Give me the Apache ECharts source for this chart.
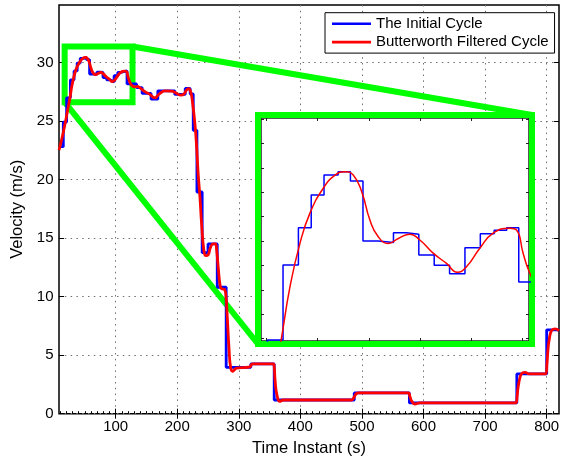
<!DOCTYPE html>
<html>
<head>
<meta charset="utf-8">
<script src="https://cdn.jsdelivr.net/npm/echarts@6/dist/echarts.min.js"></script>
<style>
  html, body { margin: 0; padding: 0; background: #fff; }
  #chart { width: 569px; height: 456px; }
</style>
</head>
<body>
<div id="chart"></div>
<script>
// Initial cycle: speed held from each time instant until the next one (stairs)
const initialTimes = [8, 15, 20.4, 26.5, 32.5, 37.5, 42.5, 48, 52.8, 57.7, 63.6, 69.6, 74.7, 79.5, 85.5, 91.5,
  97.5, 103.5, 108.9, 113.8, 118.5, 134, 143, 157.5, 168.5, 196, 213, 221, 226, 232, 240.5, 250, 265,
  279.5, 319.5, 357.5, 487.5, 577, 751.5, 800, 820];
const initialSpeeds = [22.8, 24.9, 26.97, 28.51, 29.27, 29.94, 30.35, 30.42, 30.23, 29.0, 28.97, 29.17, 29.14,
  28.71, 28.5, 28.33, 28.86, 29.15, 29.22, 29.27, 28.16, 27.85, 27.35, 26.86, 27.57, 27.26, 27.78, 27.3,
  24.2, 18.93, 13.75, 14.5, 10.8, 3.96, 4.25, 1.17, 1.77, 0.92, 3.4, 7.16, 7.16];

// Butterworth filtered cycle
const filteredTimes = [8, 10, 14, 18, 22, 25.7, 29.2, 33.1, 37.0, 42.2, 46.8, 50.7, 53.9, 57.2, 60.4, 63.6,
  67.6, 71.5, 76.0, 79.9, 85.1, 90.3, 94.5, 98.1, 103.3, 108.5, 115.0, 117.7, 120.2, 122.6, 126, 131,
  135, 140, 147.6, 155.7, 160, 164, 168, 172, 180, 191, 199, 206, 211, 215, 218.5, 222, 225, 228.7,
  231.5, 234, 236.9, 239.6, 243.3, 246.5, 250, 254, 258.5, 262, 264, 266.6, 269.3, 272, 277, 279.5,
  281, 284, 286.7, 290, 293, 296.4, 312, 318, 320.8, 323, 356, 357.5, 359, 362, 366.7, 372, 483, 486,
  488.5, 491, 494, 575, 578, 580.5, 586, 594, 750, 752, 753.6, 757.5, 761, 764.5, 772, 798.5, 800.5,
  802, 804, 807.8, 813, 820];
const filteredSpeeds = [22.5, 22.9, 23.8, 24.8, 25.9, 26.95, 28.06, 28.95, 29.57, 30.08, 30.35, 30.42, 30.35,
  30.01, 29.43, 29.09, 28.95, 29.05, 29.14, 29.02, 28.75, 28.54, 28.36, 28.47, 28.85, 29.16, 29.26,
  29.22, 28.75, 28.37, 28.05, 27.9, 27.95, 27.8, 27.5, 27.26, 27.05, 26.97, 27.15, 27.35, 27.57,
  27.55, 27.35, 27.2, 27.3, 27.63, 27.75, 27.45, 26.5, 24.78, 22.78, 20.5, 18.5, 16.2, 13.94, 13.5,
  13.55, 14.2, 14.5, 14.5, 13.94, 12.5, 11.1, 10.67, 10.6, 9.8, 8.53, 5.67, 3.96, 3.62, 3.75, 3.9,
  3.96, 4.0, 4.22, 4.25, 4.25, 4.0, 2.8, 1.6, 1.05, 1.17, 1.17, 1.3, 1.54, 1.72, 1.77, 1.77, 1.45,
  1.11, 0.83, 0.92, 0.92, 1.5, 2.25, 3.25, 3.5, 3.53, 3.4, 3.4, 4.3, 5.39, 6.3, 7.1, 7.25, 7.1];

// Tick values
const xTickValues = [100, 200, 300, 400, 500, 600, 700, 800];
const yTickValues = [0, 5, 10, 15, 20, 25, 30];
const insetXTicks = [20, 40, 60, 80, 100, 120];
const insetYTicks = [27, 27.5, 28, 28.5, 29, 29.5, 30, 30.5, 31, 31.5];

// Axis ranges
const mainT = [8, 820];
const mainV = [0, 34.9];
const insetT = [17.9, 122.5];
const insetV = [26.95, 31.52];
// Highlighted window in the main axes
const boxT = [17.2, 127.4];
const boxV = [26.6, 31.35];

const NAME_BLUE = 'The Initial Cycle';
const NAME_RED = 'Butterworth Filtered Cycle';
const FONT = '"Liberation Sans", Arial, Helvetica, sans-serif';
const GREEN = '#00ff00';

const pairs = (ts, vs) => ts.map((t, i) => [t, vs[i]]);
const initialData = pairs(initialTimes, initialSpeeds);
const filteredData = pairs(filteredTimes, filteredSpeeds);

// minor ticks every 10 s along the bottom axis
const minorX = [];
for (let t = 10; t <= 810; t += 10) if (t % 100 !== 0) minorX.push(t);

const hidden = { show: false };
const gridLine = { show: true, lineStyle: { color: '#707070', width: 1, type: [1.5, 4.3] } };

const chart = echarts.init(document.getElementById('chart'), null, { renderer: 'canvas' });

const option = {
  animation: false,
  backgroundColor: '#fff',
  textStyle: { fontFamily: FONT },
  grid: [
    { left: 59, top: 5, width: 500, height: 408.7, show: true, borderColor: '#000', borderWidth: 1.5,
      backgroundColor: 'transparent', containLabel: false, outerBoundsMode: 'none', z: 0 },
    { left: 261, top: 118, width: 268, height: 223, show: true, borderColor: '#222', borderWidth: 1.5,
      backgroundColor: '#fff', containLabel: false, outerBoundsMode: 'none', z: 1 }
  ],
  legend: {
    orient: 'vertical', left: 325, top: 12.7,
    padding: [3, 6, 3, 7], itemGap: 2.4,
    itemWidth: 39, itemHeight: 2.6, itemTextGap: 5,
    backgroundColor: '#fff', borderColor: '#000', borderWidth: 1, borderRadius: 0,
    textStyle: { fontFamily: FONT, fontSize: 15, color: '#000', lineHeight: 16 },
    selectedMode: false,
    data: [{ name: NAME_BLUE, icon: 'rect' }, { name: NAME_RED, icon: 'rect' }],
    z: 20
  },
  xAxis: [
    { // main bottom
      type: 'value', gridIndex: 0, position: 'bottom', min: mainT[0], max: mainT[1],
      name: 'Time Instant (s)', nameLocation: 'middle', nameGap: 21,
      nameTextStyle: { fontFamily: FONT, fontSize: 16.5, color: '#000' },
      axisLine: hidden,
      axisTick: { show: true, inside: true, length: 5, customValues: xTickValues,
        lineStyle: { color: '#000', width: 1 } },
      axisLabel: { show: true, customValues: xTickValues, margin: 6, color: '#000',
        fontFamily: FONT, fontSize: 15 },
      splitLine: gridLine
    },
    { // main top ticks
      type: 'value', gridIndex: 0, position: 'top', min: mainT[0], max: mainT[1],
      axisLine: hidden, axisLabel: hidden, splitLine: hidden,
      axisTick: { show: true, inside: true, length: 5, customValues: xTickValues,
        lineStyle: { color: '#000', width: 1 } }
    },
    { // main bottom minor ticks
      type: 'value', gridIndex: 0, position: 'bottom', min: mainT[0], max: mainT[1],
      axisLine: hidden, axisLabel: hidden, splitLine: hidden,
      axisTick: { show: true, inside: true, length: 2.5, customValues: minorX,
        lineStyle: { color: '#000', width: 1 } }
    },
    { // inset bottom
      type: 'value', gridIndex: 1, position: 'bottom', min: insetT[0], max: insetT[1],
      axisLine: hidden, axisLabel: hidden, splitLine: hidden,
      axisTick: { show: true, inside: true, length: 3, customValues: insetXTicks,
        lineStyle: { color: '#222', width: 1 } }, z: 2
    },
    { // inset top
      type: 'value', gridIndex: 1, position: 'top', min: insetT[0], max: insetT[1],
      axisLine: hidden, axisLabel: hidden, splitLine: hidden,
      axisTick: { show: true, inside: true, length: 3, customValues: insetXTicks,
        lineStyle: { color: '#222', width: 1 } }, z: 2
    }
  ],
  yAxis: [
    { // main left
      type: 'value', gridIndex: 0, position: 'left', min: mainV[0], max: mainV[1],
      name: 'Velocity (m/s)', nameLocation: 'middle', nameGap: 26,
      nameTextStyle: { fontFamily: FONT, fontSize: 16.5, color: '#000' },
      axisLine: hidden,
      axisTick: { show: true, inside: true, length: 5, customValues: yTickValues,
        lineStyle: { color: '#000', width: 1 } },
      axisLabel: { show: true, customValues: yTickValues, margin: 5.5, color: '#000',
        fontFamily: FONT, fontSize: 15 },
      splitLine: gridLine
    },
    { // main right ticks
      type: 'value', gridIndex: 0, position: 'right', min: mainV[0], max: mainV[1],
      axisLine: hidden, axisLabel: hidden, splitLine: hidden,
      axisTick: { show: true, inside: true, length: 5, customValues: yTickValues,
        lineStyle: { color: '#000', width: 1 } }
    },
    { // inset left
      type: 'value', gridIndex: 1, position: 'left', min: insetV[0], max: insetV[1],
      axisLine: hidden, axisLabel: hidden, splitLine: hidden,
      axisTick: { show: true, inside: true, length: 3, customValues: insetYTicks,
        lineStyle: { color: '#222', width: 1 } }, z: 2
    },
    { // inset right
      type: 'value', gridIndex: 1, position: 'right', min: insetV[0], max: insetV[1],
      axisLine: hidden, axisLabel: hidden, splitLine: hidden,
      axisTick: { show: true, inside: true, length: 3, customValues: insetYTicks,
        lineStyle: { color: '#222', width: 1 } }, z: 2
    }
  ],
  series: [
    { name: NAME_BLUE, type: 'line', xAxisIndex: 0, yAxisIndex: 0, data: initialData,
      step: 'end', symbol: 'none', color: '#0000ff',
      lineStyle: { color: '#0000ff', width: 2.8 }, z: 3 },
    { name: NAME_RED, type: 'line', xAxisIndex: 0, yAxisIndex: 0, data: filteredData,
      smooth: 0.5, symbol: 'none', color: '#ff0000',
      lineStyle: { color: '#ff0000', width: 2.8 }, z: 4 },
    { name: NAME_BLUE, type: 'line', xAxisIndex: 3, yAxisIndex: 2, data: initialData,
      step: 'end', symbol: 'none', color: '#0000ff', clip: true,
      lineStyle: { color: '#0000ff', width: 1.5 }, z: 5 },
    { name: NAME_RED, type: 'line', xAxisIndex: 3, yAxisIndex: 2, data: filteredData,
      smooth: 0.5, symbol: 'none', color: '#ff0000', clip: true,
      lineStyle: { color: '#ff0000', width: 1.5 }, z: 6 }
  ]
};

chart.setOption(option);

// Zoom window, magnified frame and the two connector lines
const toPx = (grid, pt) => chart.convertToPixel({ gridIndex: grid }, pt);
const bTL = toPx(0, [boxT[0], boxV[1]]);
const bBR = toPx(0, [boxT[1], boxV[0]]);
const iTL = toPx(1, [insetT[0], insetV[1]]);
const iBR = toPx(1, [insetT[1], insetV[0]]);
const half = 3;
const fTL = [iTL[0] - half, iTL[1] - half];
const fBR = [iBR[0] + half, iBR[1] + half];
const greenStroke = { stroke: GREEN, lineWidth: 6, fill: 'none' };

chart.setOption({
  graphic: [
    { type: 'rect', z: 1, silent: true,
      shape: { x: bTL[0], y: bTL[1], width: bBR[0] - bTL[0], height: bBR[1] - bTL[1] },
      style: greenStroke },
    { type: 'rect', z: 1, silent: true,
      shape: { x: fTL[0], y: fTL[1], width: fBR[0] - fTL[0], height: fBR[1] - fTL[1] },
      style: greenStroke },
    { type: 'line', z: 1, silent: true,
      shape: { x1: bBR[0], y1: bTL[1], x2: fBR[0], y2: fTL[1] },
      style: { stroke: GREEN, lineWidth: 6 } },
    { type: 'line', z: 1, silent: true,
      shape: { x1: bTL[0], y1: bBR[1], x2: fTL[0], y2: fBR[1] },
      style: { stroke: GREEN, lineWidth: 6 } }
  ]
});
</script>
</body>
</html>
